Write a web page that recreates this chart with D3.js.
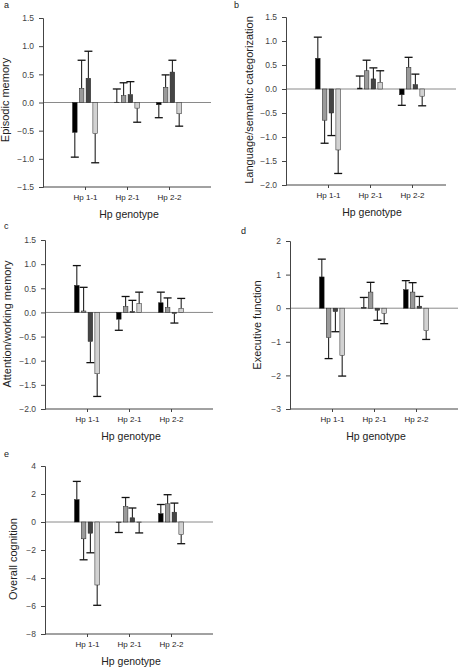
<!DOCTYPE html>
<html><head><meta charset="utf-8">
<script src="https://cdn.jsdelivr.net/npm/d3@7"></script>
<style>body{margin:0;background:#fff}svg{display:block}text{font-family:Arial,"Liberation Sans",sans-serif}</style>
</head><body>
<svg id="c" width="458" height="668"></svg>
<script>
const genotypes = ["Hp 1-1", "Hp 2-1", "Hp 2-2"];
const seriesColors = ["#000000", "#9a9a9a", "#454545", "#d2d2d2"];

// values: [genotype][series]; error bars given as end value
const episodicMean = [[-0.53, 0.25, 0.43, -0.55], [0.005, 0.12, 0.14, -0.10], [-0.04, 0.27, 0.54, -0.20]];
const episodicErr  = [[-0.97, 0.75, 0.91, -1.07], [0.24, 0.35, 0.37, -0.35], [-0.27, 0.49, 0.75, -0.42]];

const languageMean = [[0.64, -0.65, -0.50, -1.27], [0.02, 0.38, 0.21, 0.14], [-0.12, 0.45, 0.09, -0.15]];
const languageErr  = [[1.08, -1.13, -0.97, -1.76], [0.27, 0.60, 0.44, 0.38], [-0.34, 0.66, 0.31, -0.35]];

const attentionMean = [[0.56, 0.03, -0.60, -1.27], [-0.14, 0.12, 0.02, 0.18], [0.20, 0.10, -0.02, 0.08]];
const attentionErr  = [[0.97, 0.52, -1.04, -1.74], [-0.37, 0.33, 0.25, 0.42], [0.42, 0.30, -0.22, 0.29]];

const executiveMean = [[0.93, -0.87, -0.10, -1.40], [0.02, 0.48, -0.06, -0.15], [0.55, 0.48, 0.06, -0.67]];
const executiveErr  = [[1.46, -1.50, -0.70, -2.02], [0.32, 0.77, -0.36, -0.46], [0.82, 0.76, 0.35, -0.93]];

const overallMean = [[1.60, -1.20, -0.80, -4.50], [-0.02, 1.10, 0.30, -0.02], [0.60, 1.30, 0.70, -0.90]];
const overallErr  = [[2.90, -2.70, -2.20, -5.95], [-0.75, 1.75, 1.00, -0.78], [1.25, 1.95, 1.35, -1.55]];

const ticksA = [-1.5, -1.0, -0.5, 0.0, 0.5, 1.0, 1.5];
const ticksB = [-2.0, -1.5, -1.0, -0.5, 0.0, 0.5, 1.0, 1.5];
const ticksD = [-3, -2, -1, 0, 1, 2];
const ticksE = [-8, -6, -4, -2, 0, 2, 4];

const svg = d3.select("#c");

function panel(o) {
  const g = svg.append("g");
  const y = d3.scaleLinear().domain(o.domain).range([o.y1, o.y0]);
  const x = d3.scalePoint().domain(genotypes).range([o.x0, o.x0 + 168]).padding(1);
  const series = d3.scaleBand().domain(d3.range(4)).range([-12.5, 12.5]).paddingInner(0.32);
  const bw = series.bandwidth();

  // zero line
  g.append("line").attr("x1", o.x0).attr("x2", o.zeroEnd).attr("y1", y(0)).attr("y2", y(0))
    .attr("stroke", "#8a8a8a").attr("stroke-width", 1);

  // y axis
  const ya = g.append("g").attr("transform", `translate(${o.x0},0)`)
    .call(d3.axisLeft(y).tickValues(o.ticks).tickSize(4).tickPadding(5).tickFormat(d3.format(o.fmt)));
  ya.selectAll("text").attr("font-size", 8.5).attr("fill", "#444");
  ya.select(".domain").attr("stroke", "#444");
  ya.selectAll(".tick line").attr("stroke", "#444");

  // x axis
  const xa = g.append("g").attr("transform", `translate(0,${o.y1})`)
    .call(d3.axisBottom(x).tickSize(3).tickPadding(4).tickSizeOuter(0));
  xa.select(".domain").attr("d", `M${o.x0},0H${o.axisEnd}`).attr("stroke", "#444");
  xa.selectAll(".tick line").attr("stroke", "#444");
  xa.selectAll("text").attr("font-size", 8).attr("fill", "#222");

  // bars
  o.mean.forEach((row, gi) => {
    row.forEach((v, si) => {
      const cx = x(genotypes[gi]) + series(si);
      const e = o.err[gi][si];
      g.append("line").attr("x1", cx + bw / 2).attr("x2", cx + bw / 2)
        .attr("y1", y(v)).attr("y2", y(e)).attr("stroke", "#222").attr("stroke-width", 1.1);
      g.append("line").attr("x1", cx + bw / 2 - 4).attr("x2", cx + bw / 2 + 4)
        .attr("y1", y(e)).attr("y2", y(e)).attr("stroke", "#111").attr("stroke-width", 1.3);
      g.append("rect").attr("x", cx).attr("width", bw)
        .attr("y", Math.min(y(v), y(0))).attr("height", Math.abs(y(v) - y(0)))
        .attr("fill", seriesColors[si]).attr("stroke", "#222").attr("stroke-width", 0.5);
    });
  });

  // titles
  g.append("text").attr("x", o.x0 + 86).attr("y", o.y1 + 31).attr("text-anchor", "middle")
    .attr("font-size", 10.5).attr("fill", "#222").text("Hp genotype");
  g.append("text").attr("transform", `translate(${o.ylx},${o.yly}) rotate(-90)`).attr("text-anchor", "middle")
    .attr("font-size", 11).attr("fill", "#222").text(o.label);
  g.append("text").attr("x", o.lx).attr("y", o.ly).attr("font-size", 9).attr("fill", "#222").text(o.letter);
}

panel({letter: "a", lx: 4, ly: 8, label: "Episodic memory", ylx: 9, yly: 100,
  x0: 43, axisEnd: 211, zeroEnd: 211, y0: 18, y1: 187, domain: [-1.5, 1.5], ticks: ticksA, fmt: ".1f",
  mean: episodicMean, err: episodicErr});
panel({letter: "b", lx: 234, ly: 8, label: "Language/semantic categorization", ylx: 253, yly: 100,
  x0: 286, axisEnd: 446, zeroEnd: 456, y0: 17, y1: 185, domain: [-2, 1.5], ticks: ticksB, fmt: ".1f",
  mean: languageMean, err: languageErr});
panel({letter: "c", lx: 4, ly: 229, label: "Attention/working memory", ylx: 11, yly: 324,
  x0: 45, axisEnd: 213, zeroEnd: 213, y0: 240, y1: 409, domain: [-2, 1.5], ticks: ticksB, fmt: ".1f",
  mean: attentionMean, err: attentionErr});
panel({letter: "d", lx: 241, ly: 234, label: "Executive function", ylx: 261, yly: 325,
  x0: 290, axisEnd: 458, zeroEnd: 458, y0: 241, y1: 409, domain: [-3, 2], ticks: ticksD, fmt: "d",
  mean: executiveMean, err: executiveErr});
panel({letter: "e", lx: 4, ly: 457, label: "Overall cognition", ylx: 17, yly: 559,
  x0: 45, axisEnd: 213, zeroEnd: 213, y0: 466, y1: 634, domain: [-8, 4], ticks: ticksE, fmt: "d",
  mean: overallMean, err: overallErr});
</script>
</body></html>
